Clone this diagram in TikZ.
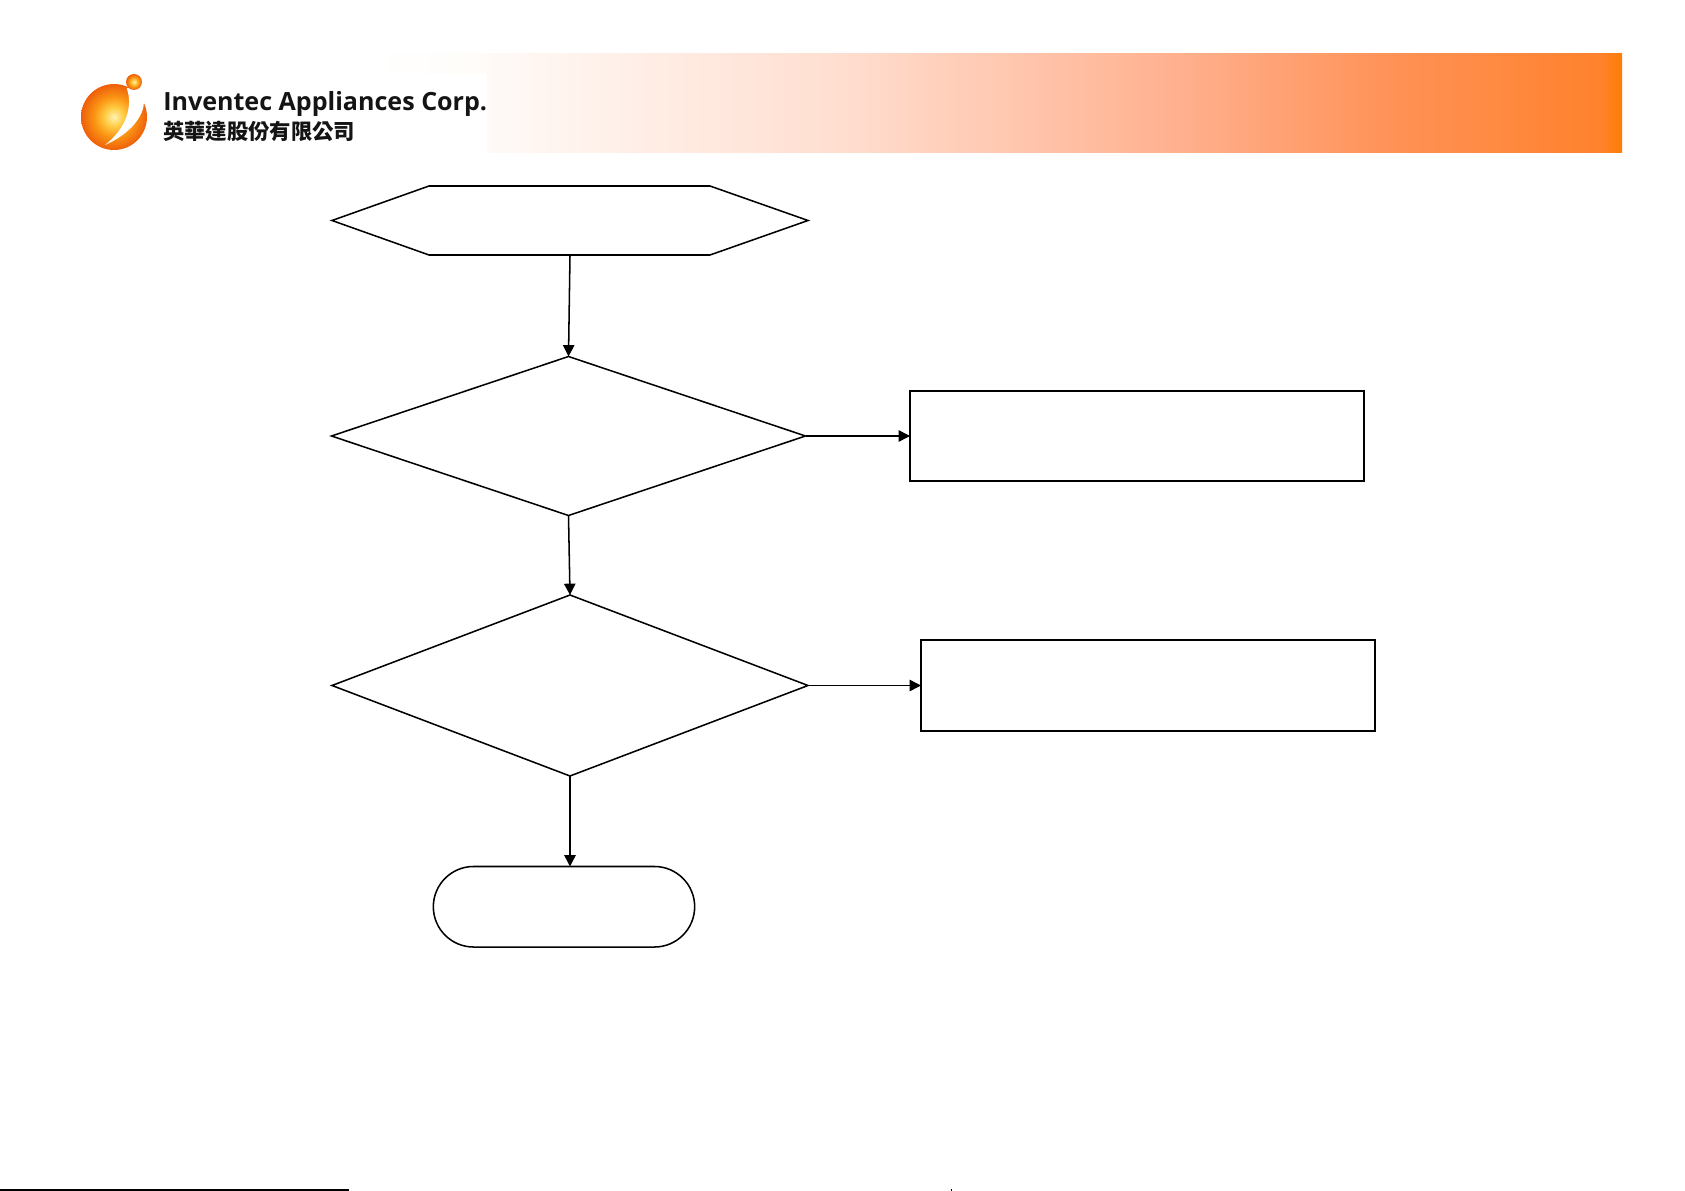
\documentclass[tikz,border=0pt]{standalone}
\usepackage{fontspec}
\setmainfont{Open Sans}
\newfontfamily\cjkfont{Noto Sans CJK TC}
\usetikzlibrary{shapes.geometric,shapes.misc,arrows.meta}
\definecolor{grZ}{RGB}{255,252,248}
\definecolor{grA}{RGB}{255,250,247}
\definecolor{grM}{RGB}{255,222,208}
\definecolor{grB}{RGB}{255,176,142}
\definecolor{grD}{RGB}{255,145,85}
\definecolor{grE}{RGB}{255,130,45}
\definecolor{grC}{RGB}{255,125,5}
\definecolor{ballA}{RGB}{255,243,180}
\definecolor{ballB}{RGB}{255,205,70}
\definecolor{ballC}{RGB}{250,150,20}
\definecolor{ballD}{RGB}{238,95,10}
\definecolor{logotxt}{RGB}{20,20,20}
\pgfdeclareradialshading{logoball}{\pgfpoint{0bp}{0bp}}{%
  color(0bp)=(ballA);
  color(7bp)=(ballB);
  color(15bp)=(ballC);
  color(25bp)=(ballD);
  color(50bp)=(ballD)}
\tikzset{
  px/.style={x=0.75pt,y=-0.75pt},
  shapeline/.style={draw=black,line width=1.15pt,fill=white,inner sep=0pt,outer sep=0pt},
  dia/.style={shapeline,diamond},
  hexframe/.style={inner sep=0pt,outer sep=0pt,rectangle},
  boxr/.style={shapeline,rectangle,line width=1.5pt},
  term/.style={shapeline,rounded rectangle},
  conn/.style={draw=black,line width=1.15pt,-{Triangle[length=8.5pt,width=8.5pt]}}
}
\begin{document}
\begin{tikzpicture}[px]
\useasboundingbox (0,0) rectangle (1685,1191);
% header band
\fill[left color=white,right color=grZ] (370,54) rectangle (487,153);
\fill[left color=grA,right color=grM] (487,54) rectangle (840,153);
\fill[left color=grM,right color=grB] (840,54) rectangle (1180,153);
\fill[left color=grB,right color=grD] (1180,54) rectangle (1400,153);
\fill[left color=grD,right color=grE] (1400,54) rectangle (1600,153);
\fill[left color=grE,right color=grC] (1600,54) rectangle (1622,153);
\fill[white] (60,74) rectangle (487,153);
% logo
\shade[shading=logoball] (114,117) circle (33);
\fill[white] (126.7,88.3) .. controls (133,105) and (127,128) .. (105,145)
  .. controls (132,133) and (144,115) .. (144,101.7)
  -- (150,85) -- cycle;
\shade[shading=logoball] (134,82) circle (8);
\node[anchor=base west,inner sep=0pt,text=logotxt,font=\fontsize{18.8pt}{21pt}\selectfont\bfseries] (logoen) at (163,111) {Inventec Appliances Corp.};
\node[anchor=base west,inner sep=0pt,text=logotxt,font=\cjkfont\fontsize{16pt}{18pt}\selectfont\bfseries] (logozh) at (163,140) {英華達股份有限公司};
% flowchart
\node[hexframe,minimum width=357pt,minimum height=51.75pt] (hex) at (570,220.5) {};
\draw[draw=black,line width=1.15pt,line join=miter]
  (hex.west) -- ([xshift=72.75pt]hex.north west) -- ([xshift=-73.5pt]hex.north east)
  -- (hex.east) -- ([xshift=-73.5pt]hex.south east) -- ([xshift=72.75pt]hex.south west) -- cycle;
\node[dia,minimum width=355.5pt,minimum height=119.25pt] (d1) at (568.5,436) {};
\node[dia,minimum width=357pt,minimum height=135.75pt] (d2) at (570,685.5) {};
\node[boxr,minimum width=340.5pt,minimum height=67.5pt] (b1) at (1137,436) {};
\node[boxr,minimum width=340.5pt,minimum height=68.25pt] (b2) at (1148,685.5) {};
\node[term,minimum width=196pt,minimum height=60.4pt] (t) at (564,906.75) {};
\draw[conn] (hex.south) -- (d1.north);
\draw[conn] (d1.south) -- (d2.north);
\draw[conn] (d2.south) -- (d2.south |- t.north);
\draw[conn] (d1.east) -- (b1.west);
\draw[conn] (d2.east) -- (b2.west);
% bottom edge marks
\coordinate (ruleA) at (0,1190);
\coordinate (ruleB) at (349,1190);
\draw[black,line width=1.2pt] (ruleA) -- (ruleB);
\fill[black] (951,1189) rectangle (952,1191);
\end{tikzpicture}
\end{document}
